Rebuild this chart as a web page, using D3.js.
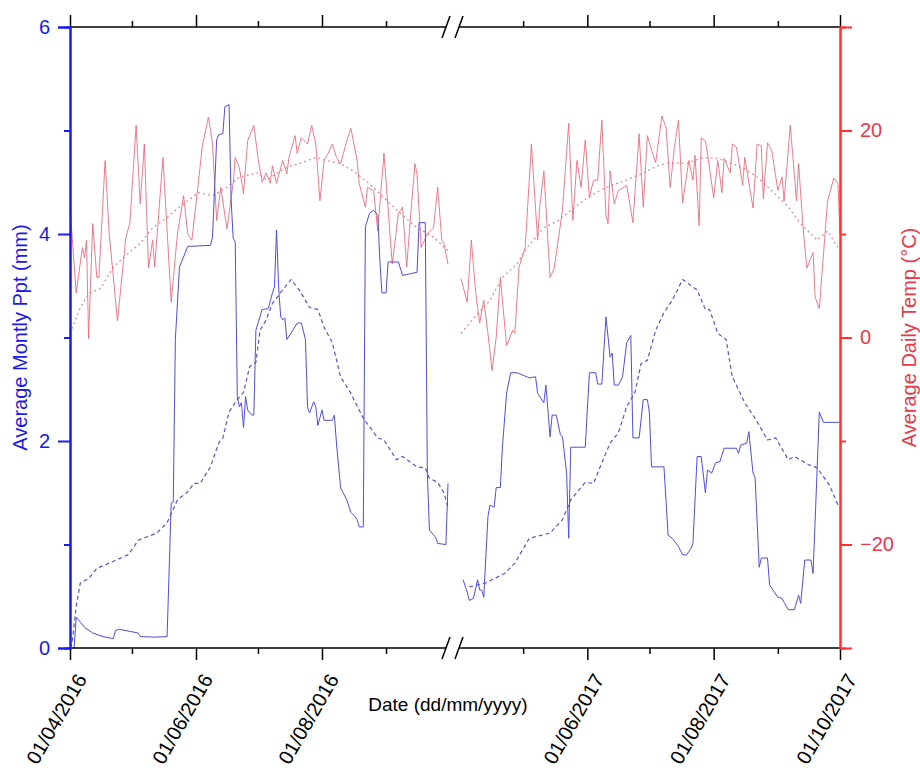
<!DOCTYPE html>
<html>
<head>
<meta charset="UTF-8">
<title>Monthly Ppt and Daily Temp</title>
<style>
  body { margin: 0; background: #fff; }
  svg { font-family: "Liberation Sans", Arial, sans-serif; }
</style>
</head>
<body>
<div id="chart"></div>
<script src="https://cdnjs.cloudflare.com/ajax/libs/d3/7.8.5/d3.min.js"></script>
<script>
// days are counted from 1 April of each year
const start2016 = new Date(2016, 3, 1), end2016 = new Date(2016, 9, 1);
const start2017 = new Date(2017, 3, 1), end2017 = new Date(2017, 9, 1);

const majorTicks = [new Date(2016, 3, 1), new Date(2016, 5, 1), new Date(2016, 7, 1),
                    new Date(2017, 5, 1), new Date(2017, 7, 1), new Date(2017, 9, 1)];
const minorTicks = [new Date(2016, 4, 1), new Date(2016, 6, 1), new Date(2016, 8, 1),
                    new Date(2017, 4, 1), new Date(2017, 6, 1), new Date(2017, 8, 1)];
const pptTicks = [0, 2, 4, 6], pptMinor = [1, 3, 5];
const tempTicks = [-20, 0, 20], tempMinor = [-10, 10];

// average monthly precipitation (mm), solid blue
const ppt2016 = [[2,0],[3,0.30],[7,0.2],[11,0.145],[16,0.11],[21,0.09],[22,0.17],[24,0.18],[33,0.145],[34,0.11],[41,0.105],[47,0.11],[49,1.40],[50,1.41],[51,2.98],[53,3.68],[57,3.88],[68,3.89],[69,3.97],[71,4.91],[72,4.96],[74,4.97],[75,5.23],[77,5.25],[78,4.33],[79,3.96],[80,3.92],[81,2.43],[82,2.33],[83,2.37],[84,2.13],[85,2.43],[86,2.30],[88,2.25],[89,2.25],[90,3.07],[93,3.27],[96,3.28],[98,3.43],[99,3.49],[100,4.04],[101,3.49],[102,3.20],[103,3.17],[104,3.19],[105,2.98],[107,3.04],[110,3.14],[112,3.14],[114,2.98],[115,2.33],[116,2.27],[118,2.38],[119,2.33],[120,2.15],[122,2.30],[123,2.20],[127,2.20],[128,2.25],[129,1.98],[131,1.55],[132,1.51],[134,1.43],[136,1.31],[138,1.27],[139,1.24],[140,1.17],[142,1.17],[143,4.07],[145,4.20],[147,4.23],[149,4.18],[150,3.75],[151,3.43],[153,3.43],[154,3.73],[159,3.73],[161,3.60],[168,3.63],[169,4.11],[172,4.11],[173,1.69],[174,1.14],[177,1.07],[178,1.01],[182,1.00],[183,1.59]];
const ppt2017 = [[1,0.66],[3,0.54],[4,0.46],[6,0.48],[8,0.66],[9,0.56],[10,0.56],[11,0.49],[13,1.27],[14,1.38],[16,1.36],[17,1.55],[19,1.55],[20,1.94],[22,2.46],[24,2.66],[27,2.66],[33,2.61],[36,2.62],[37,2.46],[40,2.37],[41,2.54],[43,2.04],[44,2.25],[46,2.25],[48,2.06],[49,2.04],[51,1.69],[52,1.06],[53,1.94],[60,1.94],[62,2.66],[65,2.66],[66,2.55],[68,2.55],[70,3.20],[72,2.81],[73,2.85],[74,2.54],[76,2.54],[78,2.62],[80,2.95],[82,3.02],[83,2.03],[86,2.03],[88,2.40],[90,2.40],[91,2.27],[92,1.75],[98,1.75],[100,1.09],[102,1.06],[105,0.98],[107,0.90],[109,0.90],[111,0.96],[112,1.01],[114,1.85],[116,1.85],[118,1.50],[119,1.72],[121,1.69],[123,1.79],[125,1.80],[127,1.93],[133,1.93],[134,1.88],[135,1.96],[138,1.98],[139,2.09],[141,1.69],[142,1.65],[144,0.78],[145,0.87],[148,0.87],[149,0.61],[153,0.49],[155,0.48],[156,0.44],[158,0.37],[161,0.37],[163,0.51],[164,0.43],[166,0.85],[169,0.85],[170,0.72],[172,1.75],[173,2.28],[175,2.18],[183,2.18]];

// long-term average precipitation, dashed blue
const pptAvg2016 = [[0,0.0],[1,0.05],[3,0.40],[5,0.63],[9,0.67],[13,0.77],[19,0.82],[28,0.90],[30,0.95],[33,1.04],[42,1.11],[47,1.21],[52,1.43],[57,1.51],[60,1.59],[63,1.59],[68,1.75],[72,1.98],[74,2.03],[77,2.28],[81,2.40],[84,2.47],[87,2.72],[90,2.76],[92,3.07],[95,3.17],[98,3.33],[103,3.46],[107,3.56],[111,3.46],[116,3.29],[120,3.27],[123,3.10],[127,2.95],[131,2.62],[136,2.46],[142,2.22],[149,2.03],[152,2.01],[158,1.82],[161,1.85],[168,1.75],[172,1.74],[174,1.64],[178,1.60],[181,1.50],[183,1.36]];
const pptAvg2017 = [[4,0.59],[12,0.63],[21,0.72],[26,0.82],[33,1.06],[43,1.11],[49,1.24],[53,1.43],[60,1.60],[64,1.59],[68,1.79],[72,1.98],[76,2.08],[80,2.33],[84,2.47],[87,2.75],[90,2.78],[94,3.07],[98,3.24],[102,3.36],[107,3.56],[114,3.46],[118,3.27],[120,3.27],[124,3.04],[128,2.98],[131,2.62],[137,2.37],[142,2.22],[148,2.01],[152,2.03],[158,1.82],[161,1.85],[168,1.77],[172,1.74],[178,1.57],[182,1.38]];

// average daily temperature (°C), solid red
const temp2016 = [[0,12.6],[3,4.3],[6,8.7],[7,7.7],[8,9.4],[9,-0.1],[11,11.0],[13,5.8],[14,5.8],[17,17.1],[19,10.0],[23,1.6],[27,9.6],[29,11.1],[32,20.5],[34,12.9],[36,18.7],[38,6.7],[40,9.4],[41,6.8],[45,17.4],[49,3.4],[52,10.0],[55,13.7],[57,10.0],[59,9.4],[62,14.7],[64,18.4],[67,21.3],[69,18.7],[71,11.3],[73,14.5],[76,10.5],[79,14.9],[80,17.4],[82,16.4],[84,13.9],[86,19.0],[89,20.5],[91,17.4],[93,15.0],[95,15.9],[97,14.9],[98,16.6],[100,14.9],[103,17.1],[105,15.8],[106,17.4],[109,19.5],[110,17.8],[112,19.3],[115,18.7],[117,20.5],[119,18.7],[121,13.2],[123,17.1],[125,17.8],[127,18.7],[129,17.4],[131,16.8],[134,19.0],[136,20.2],[139,17.1],[140,14.9],[143,12.6],[144,14.5],[147,14.2],[149,10.3],[152,17.8],[156,7.1],[159,12.0],[161,12.6],[163,6.8],[165,12.0],[167,16.8],[168,15.8],[170,8.7],[173,10.0],[176,10.6],[178,14.5],[180,9.4],[181,9.1],[183,7.1]];
const temp2017 = [[0,5.7],[3,3.4],[5,9.4],[7,4.5],[9,1.4],[11,3.6],[13,0.4],[15,-3.2],[17,0.0],[19,5.8],[22,-0.8],[25,0.7],[26,0.4],[28,6.8],[31,8.7],[34,18.7],[37,9.4],[38,12.6],[40,16.1],[43,5.8],[45,6.7],[49,12.3],[52,20.7],[54,11.3],[56,17.1],[58,14.5],[60,19.1],[62,13.5],[64,15.2],[66,15.2],[68,21.0],[70,11.8],[71,11.0],[72,16.1],[74,12.9],[76,14.2],[80,14.7],[83,11.1],[86,19.7],[88,12.6],[90,19.5],[92,18.1],[94,16.9],[97,21.4],[99,20.3],[101,14.5],[103,18.3],[105,21.0],[107,13.0],[110,17.1],[112,15.2],[113,17.6],[115,10.8],[116,19.3],[118,19.0],[119,17.8],[122,13.5],[124,17.1],[126,14.0],[127,17.3],[130,15.9],[131,18.7],[133,18.4],[136,14.7],[137,17.4],[141,12.5],[143,18.7],[145,18.5],[146,13.4],[148,18.8],[150,18.1],[153,14.2],[155,15.5],[156,13.2],[159,20.5],[162,13.2],[163,16.8],[165,11.0],[167,6.7],[170,8.2],[171,3.9],[173,2.8],[177,13.2],[180,15.4],[182,14.9],[183,10.0]];

// long-term average temperature, dotted red
const tempAvg2016 = [[0,0.4],[5,2.9],[9,4.2],[15,4.8],[21,6.8],[28,8.1],[34,9.1],[40,10.6],[47,11.6],[53,12.6],[62,14.0],[69,13.7],[76,14.5],[82,15.5],[91,15.9],[95,15.2],[102,16.1],[107,16.6],[111,16.8],[119,17.4],[124,17.1],[131,16.8],[137,16.1],[144,15.0],[152,13.5],[160,12.0],[168,10.6],[176,9.7],[183,8.4]];
const tempAvg2017 = [[0,0.4],[8,2.3],[14,3.6],[20,5.8],[27,7.1],[32,8.7],[40,10.6],[47,11.3],[53,12.3],[61,13.5],[69,14.4],[77,15.0],[87,15.8],[95,16.6],[101,16.9],[109,16.8],[117,17.4],[124,17.3],[130,16.9],[136,16.4],[143,15.5],[151,14.0],[158,12.6],[164,11.0],[172,9.4],[177,10.3],[182,8.7]];

const W = 920, H = 768;
const plotL = 70, plotR = 840, plotT = 27, plotB = 648;

const svg = d3.select('#chart').append('svg')
  .attr('width', W).attr('height', H);

// broken time axis: two half-years side by side
const x = d3.scaleTime()
  .domain([start2016, end2016, start2017, end2017])
  .range([plotL, 448, 461, plotR]);
const yPpt = d3.scaleLinear().domain([0, 6]).range([plotB, plotT]);
const yTemp = d3.scaleLinear().domain([-30, 30]).range([plotB, plotT]);

const toPts = (arr, s) => arr.map(d => ({date: d3.timeDay.offset(s, d[0]), v: d[1]}));

const lineP = d3.line().x(d => x(d.date)).y(d => yPpt(d.v));
const lineT = d3.line().x(d => x(d.date)).y(d => yTemp(d.v));

const series = [
  {data: toPts(tempAvg2016, start2016), line: lineT, color: '#d9909a', dash: '2,3', w: 1.3},
  {data: toPts(tempAvg2017, start2017), line: lineT, color: '#d9909a', dash: '2,3', w: 1.3},
  {data: toPts(temp2016, start2016), line: lineT, color: '#ec6c7c', dash: null, w: 0.9},
  {data: toPts(temp2017, start2017), line: lineT, color: '#ec6c7c', dash: null, w: 0.9},
  {data: toPts(pptAvg2016, start2016), line: lineP, color: '#5656c8', dash: '4,3', w: 1.2},
  {data: toPts(pptAvg2017, start2017), line: lineP, color: '#5656c8', dash: '4,3', w: 1.2},
  {data: toPts(ppt2016, start2016), line: lineP, color: '#4e4ede', dash: null, w: 1},
  {data: toPts(ppt2017, start2017), line: lineP, color: '#4e4ede', dash: null, w: 1}
];

svg.append('g').selectAll('path')
  .data(series)
  .enter().append('path')
    .attr('d', s => s.line(s.data))
    .attr('fill', 'none')
    .attr('stroke', s => s.color)
    .attr('stroke-width', s => s.w)
    .attr('stroke-dasharray', s => s.dash)
    .attr('stroke-linejoin', 'round');

// x axes (bottom with labels, top without)
const fmt = d3.timeFormat('%d/%m/%Y');
function xAxes(g, axisFn, y) {
  g.attr('transform', 'translate(0,' + y + ')');
  g.append('g').call(axisFn(x).tickValues(majorTicks).tickSize(12).tickSizeOuter(0).tickFormat(fmt))
    .attr('class', 'major');
  g.append('g').call(axisFn(x).tickValues(minorTicks).tickSize(6).tickSizeOuter(0).tickFormat(''));
  g.selectAll('.domain').remove();
  g.selectAll('line').attr('stroke', '#000').attr('stroke-width', 1.5);
  // axis line with break marks
  const b1 = x(end2016) - 2, b2 = x(start2017) - 2;
  g.append('line').attr('x1', plotL).attr('x2', b1).attr('stroke', '#000').attr('stroke-width', 1.5);
  g.append('line').attr('x1', b2).attr('x2', plotR).attr('stroke', '#000').attr('stroke-width', 1.5);
  [b1, b2].forEach(b => {
    g.append('line')
      .attr('x1', b - 4).attr('y1', 11).attr('x2', b + 4).attr('y2', -11)
      .attr('stroke', '#000').attr('stroke-width', 1.5);
  });
}

const xb = svg.append('g');
xAxes(xb, d3.axisBottom, plotB);
xb.select('.major').selectAll('text')
  .attr('x', 0).attr('y', 0).attr('dy', 0)
  .attr('transform', 'translate(17,31) rotate(-60)')
  .style('text-anchor', 'end')
  .style('font-size', '20px')
  .attr('fill', '#000');

const xt = svg.append('g');
xAxes(xt, d3.axisTop, plotT);
xt.selectAll('text').remove();

// left axis: precipitation
const yl = svg.append('g').attr('transform', 'translate(' + plotL + ',0)');
yl.append('g').call(d3.axisLeft(yPpt).tickValues(pptTicks).tickSize(12).tickPadding(8).tickFormat(d3.format('d')));
yl.append('g').call(d3.axisLeft(yPpt).tickValues(pptMinor).tickSize(6).tickFormat(''));
yl.selectAll('.domain').attr('stroke', '#1a1aff').attr('stroke-width', 2);
yl.selectAll('line').attr('stroke', '#1a1aff').attr('stroke-width', 2);
yl.selectAll('text').attr('fill', '#1a1ae6').style('font-size', '20px');

// right axis: temperature
const yr = svg.append('g').attr('transform', 'translate(' + plotR + ',0)');
yr.append('g').call(d3.axisRight(yTemp).tickValues(tempTicks).tickSize(12).tickPadding(8));
yr.append('g').call(d3.axisRight(yTemp).tickValues(tempMinor).tickSize(6).tickFormat(''));
yr.selectAll('.domain').attr('stroke', '#ff3030').attr('stroke-width', 2);
yr.selectAll('line').attr('stroke', '#ff3030').attr('stroke-width', 2);
yr.selectAll('text').attr('fill', '#e8384a').style('font-size', '20px');

// titles
svg.append('text')
  .attr('transform', 'translate(27,' + ((plotT + plotB) / 2) + ') rotate(-90)')
  .style('text-anchor', 'middle')
  .style('font-size', '20px')
  .attr('fill', '#1a1ae6')
  .text('Average Montly Ppt (mm)');

svg.append('text')
  .attr('transform', 'translate(916,' + ((plotT + plotB) / 2) + ') rotate(-90)')
  .style('text-anchor', 'middle')
  .style('font-size', '20px')
  .attr('fill', '#e8384a')
  .text('Average Daily Temp (°C)');

svg.append('text')
  .attr('x', 448).attr('y', 711)
  .style('text-anchor', 'middle')
  .style('font-size', '19px')
  .attr('fill', '#000')
  .text('Date (dd/mm/yyyy)');
</script>
</body>
</html>
